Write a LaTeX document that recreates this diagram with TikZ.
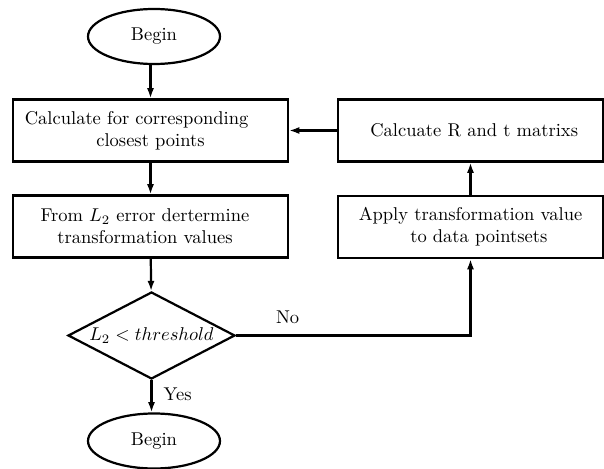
\documentclass[tikz,border=0pt]{standalone}
\usetikzlibrary{shapes.geometric,arrows.meta}
\begin{document}
\def\pxunit{0.54pt}
\begin{tikzpicture}[x=0.54pt,y=-0.54pt,
  every node/.style={font=\normalsize},
  flowbox/.style={draw,line width=1.2pt,rectangle,inner sep=0pt,align=center,
    minimum height={62*\pxunit}},
  terminal/.style={draw,line width=1.2pt,ellipse,inner sep=0pt,
    minimum width={132*\pxunit},minimum height={55*\pxunit}},
  decision/.style={draw,line width=1.2pt,diamond,inner sep=0pt,aspect=1.92,
    minimum width={167*\pxunit},minimum height={87*\pxunit}},
  flow/.style={line width=1.2pt,-{Latex[length=5.5pt,width=3.8pt]}},
  lbl/.style={inner sep=0pt}]
\useasboundingbox (0,0) rectangle (604,469);

% main column
\node[terminal] (start) at (154,36.5) {Begin};
\node[flowbox,minimum width={275*\pxunit}] (closest) at (150.5,130.5)
  {Calculate for corresponding\kern15pt\\closest points};
\node[flowbox,minimum width={275*\pxunit}] (error) at (150.5,226.5)
  {From $L_2$ error dertermine\kern6pt\\transformation values\kern6pt};
\node[decision] (test) at (151.5,335.5) {$L_2<threshold$};
\node[terminal] (stop) at (154,441) {Begin};

% feedback column
\node[flowbox,minimum width={265*\pxunit}] (rt) at (470.5,130.5)
  {\kern4pt Calcuate R and t matrixs};
\node[flowbox,minimum width={265*\pxunit}] (apply) at (470.5,227)
  {Apply transformation value\\\kern9pt to data pointsets};

% connectors
\draw[flow] (start.south -| closest.north) -- (closest.north);
\draw[flow] (closest) -- (error);
\draw[flow] (error) -- (test);
\draw[flow] (test) -- node[lbl,right=6pt,pos=0.45] {Yes} (stop.north -| test.south);
\draw[flow] (test.east) -| node[lbl,pos=0.11,above=6pt] {No} (apply.south);
\draw[flow] (apply) -- (rt);
\draw[flow] (rt) -- (closest);
\end{tikzpicture}
\end{document}
